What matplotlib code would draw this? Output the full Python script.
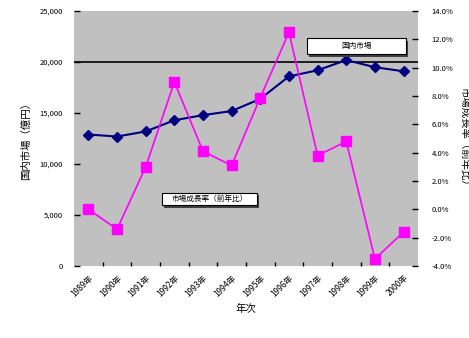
import matplotlib
matplotlib.use("Agg")
import matplotlib.pyplot as plt
from matplotlib.ticker import FuncFormatter, FixedLocator
from matplotlib.patches import Rectangle
import numpy as np

plt.rcParams['font.family'] = ['Noto Sans CJK JP', 'DejaVu Sans']

# 国内市場規模と前年比成長率
years = ['1989年', '1990年', '1991年', '1992年', '1993年', '1994年',
         '1995年', '1996年', '1997年', '1998年', '1999年', '2000年']
market = [12900, 12700, 13200, 14300, 14800, 15200,
          16400, 18600, 19200, 20200, 19500, 19100]
growth = [0.0, -1.4, 3.0, 9.0, 4.1, 3.1,
          7.9, 12.5, 3.8, 4.8, -3.5, -1.6]

x = np.arange(len(years))

fig = plt.figure(figsize=(4.69, 3.38), dpi=100)
ax = fig.add_axes([0.158, 0.213, 0.733, 0.754])
ax.set_facecolor('#C0C0C0')

ax.axhline(20000, color='black', lw=1.2, zorder=1)
ax.plot(x, market, color='#000080', lw=1.5, marker='D', ms=5.5,
        mec='#000080', mfc='#000080', zorder=3)
ax.set_ylim(0, 25000)
ax.set_xlim(-0.5, len(years) - 0.5)
ax.set_yticks(range(0, 25001, 5000))
ax.yaxis.set_major_formatter(FuncFormatter(lambda v, p: f'{int(v):,}'))

ax.set_xticks(x)
ax.set_xticklabels(years, rotation=45, ha='right', rotation_mode='anchor')
ax.xaxis.set_minor_locator(FixedLocator(x[:-1] + 0.5))
ax.tick_params(axis='x', which='major', length=0, labelsize=6, pad=5)
ax.tick_params(axis='x', which='minor', direction='in', length=3, width=1)
ax.tick_params(axis='y', direction='in', length=4, width=1, labelsize=5.5, pad=8)

ax2 = ax.twinx()
ax2.plot(x, growth, color='#FF00FF', lw=1.2, marker='s', ms=7,
         mec='#FF00FF', mfc='#FF00FF', zorder=3)
ax2.set_ylim(-4, 14)
ax2.set_yticks(np.arange(-4, 14.1, 2))
ax2.yaxis.set_major_formatter(FuncFormatter(lambda v, p: f'{v:.1f}%'))
ax2.tick_params(axis='y', direction='in', length=4, width=1, labelsize=5.5, pad=10)

for a in (ax, ax2):
    for s in a.spines.values():
        s.set_visible(False)

ax.set_ylabel('国内市場（億円）', fontsize=7.5, labelpad=6)
ax2.set_ylabel('市場成長率（前年比）', fontsize=7.5, rotation=270, labelpad=12)
ax.set_xlabel('年次', fontsize=7.5, labelpad=4)


def label_box(a, x0, y0, w, h, text):
    # 影付きの白い枠に系列名を書く
    a.add_patch(Rectangle((x0 + 0.07, y0 - 250), w, h, fc='#404040', ec='none', zorder=4))
    a.add_patch(Rectangle((x0, y0), w, h, fc='white', ec='black', lw=0.8, zorder=5))
    a.text(x0 + w / 2, y0 + h / 2, text, fontsize=5.5, ha='center', va='center', zorder=6)


label_box(ax, 7.63, 20750, 3.45, 1600, '国内市場')
label_box(ax, 2.57, 5950, 3.3, 1250, '市場成長率（前年比）')

fig.savefig('out.png', dpi=100)
